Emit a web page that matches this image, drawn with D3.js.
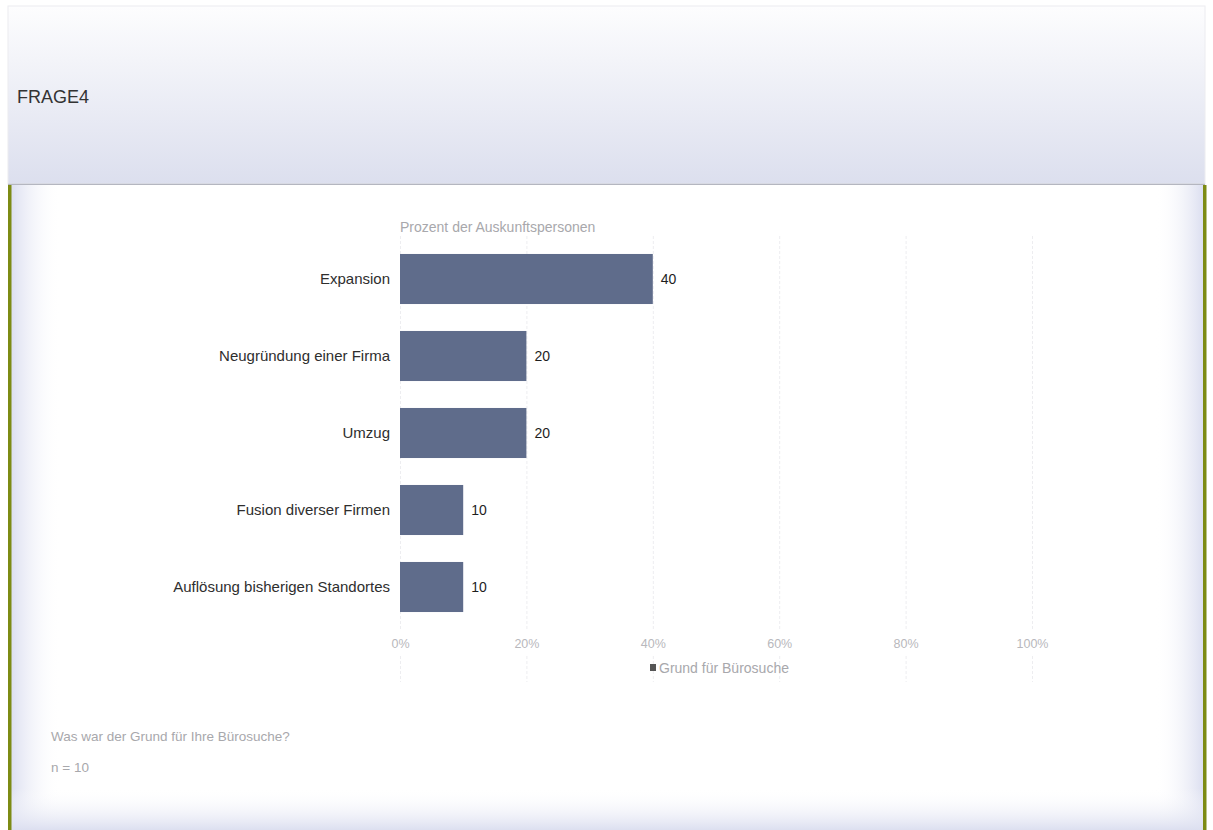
<!DOCTYPE html>
<html>
<head>
<meta charset="utf-8">
<script src="https://cdn.jsdelivr.net/npm/d3@7"></script>
<style>
  html, body { margin: 0; padding: 0; background: #fff; }
  svg { display: block; font-family: "Liberation Sans", Arial, sans-serif; }
</style>
</head>
<body>
<svg id="chart" width="1213" height="830"></svg>
<script>
// Survey results: reasons for the office search
const categories = ["Expansion", "Neugründung einer Firma", "Umzug", "Fusion diverser Firmen", "Auflösung bisherigen Standortes"];
const values = [40, 20, 20, 10, 10];
const tickValues = [0, 20, 40, 60, 80, 100];
const pageTitle = "FRAGE4";
const axisTitle = "Prozent der Auskunftspersonen";
const seriesName = "Grund für Bürosuche";
const questionText = "Was war der Grund für Ihre Bürosuche?";
const sampleText = "n = 10";

const FONT = "\"Liberation Sans\", Arial, sans-serif";
const svg = d3.select("#chart");
const defs = svg.append("defs");

// Header gradient
const hg = defs.append("linearGradient").attr("id", "hdr").attr("x1", 0).attr("y1", 0).attr("x2", 0).attr("y2", 1);
hg.append("stop").attr("offset", "0%").attr("stop-color", "#fdfdfe");
hg.append("stop").attr("offset", "30%").attr("stop-color", "#f3f4f9");
hg.append("stop").attr("offset", "100%").attr("stop-color", "#dcdfee");

// Edge shading of the content panel
function edgeGrad(id, x1, y1, x2, y2) {
  const g = defs.append("linearGradient").attr("id", id)
    .attr("x1", x1).attr("y1", y1).attr("x2", x2).attr("y2", y2);
  g.append("stop").attr("offset", "0%").attr("stop-color", "#dcdff0").attr("stop-opacity", 1);
  g.append("stop").attr("offset", "100%").attr("stop-color", "#ffffff").attr("stop-opacity", 0);
}
edgeGrad("edgeL", 0, 0, 1, 0);
edgeGrad("edgeR", 1, 0, 0, 0);
edgeGrad("edgeB", 0, 1, 0, 0);

// Page frame
svg.append("rect").attr("x", 8).attr("y", 6).attr("width", 1197).attr("height", 178)
  .attr("fill", "url(#hdr)").attr("stroke", "#ececf0").attr("stroke-width", 1);
svg.append("line").attr("x1", 8).attr("x2", 1205).attr("y1", 184.5).attr("y2", 184.5)
  .attr("stroke", "#b4b6c0").attr("stroke-width", 1.5);

svg.append("rect").attr("x", 11).attr("y", 185).attr("width", 1192).attr("height", 645).attr("fill", "#ffffff");
svg.append("rect").attr("x", 11).attr("y", 185).attr("width", 50).attr("height", 645).attr("fill", "url(#edgeL)");
svg.append("rect").attr("x", 1155).attr("y", 185).attr("width", 48).attr("height", 645).attr("fill", "url(#edgeR)");
svg.append("rect").attr("x", 11).attr("y", 788).attr("width", 1192).attr("height", 42).attr("fill", "url(#edgeB)");
svg.append("rect").attr("x", 8).attr("y", 185).attr("width", 3.5).attr("height", 645).attr("fill", "#7d8b14");
svg.append("rect").attr("x", 1203).attr("y", 185).attr("width", 3.5).attr("height", 645).attr("fill", "#7d8b14");

svg.append("text").attr("x", 17).attr("y", 103).attr("font-size", 18).attr("fill", "#333")
  .text(pageTitle);

// Scales
const x = d3.scaleLinear().domain([0, 100]).range([400, 1032]);
const y = d3.scaleBand().domain(categories).range([240.5, 625.5]).paddingInner(0.35).paddingOuter(0.175);

// Grid lines (broken around the tick labels)
const grid = svg.append("g");
[[236, 631], [656, 682]].forEach(([y1, y2]) => {
  grid.append("g").selectAll("line").data(tickValues).join("line")
    .attr("x1", d => x(d) + 0.5).attr("x2", d => x(d) + 0.5)
    .attr("y1", y1).attr("y2", y2)
    .attr("stroke", "#ededf0").attr("stroke-width", 1).attr("stroke-dasharray", "3,2");
});

// Axis title
svg.append("text").attr("x", 400).attr("y", 232).attr("font-size", 14).attr("fill", "#a8a8ac")
  .text(axisTitle);

// X axis tick labels
const xAxis = d3.axisBottom(x).tickValues(tickValues).tickFormat(d => d + "%").tickSize(0).tickPadding(0);
const ax = svg.append("g").attr("transform", "translate(0,639)").call(xAxis);
ax.select(".domain").remove();
ax.selectAll("text").attr("font-size", 12.5).attr("fill", "#b8b8bc").attr("font-family", FONT);

// Category labels
const yAxis = d3.axisLeft(y).tickSize(0).tickPadding(10);
const ay = svg.append("g").attr("transform", "translate(400,0)").call(yAxis);
ay.select(".domain").remove();
ay.selectAll("text").attr("font-size", 15).attr("fill", "#2e2e2e").attr("font-family", FONT);

// Bars
const rows = categories.map((c, i) => ({ c, v: values[i] }));
svg.append("g").selectAll("rect").data(rows).join("rect")
  .attr("x", x(0)).attr("y", d => y(d.c))
  .attr("width", d => x(d.v) - x(0)).attr("height", y.bandwidth())
  .attr("fill", "#5f6c8b");

// Value labels
svg.append("g").selectAll("text").data(rows).join("text")
  .attr("x", d => x(d.v) + 8).attr("y", d => y(d.c) + y.bandwidth() / 2)
  .attr("dy", "0.35em").attr("font-size", 14).attr("fill", "#1e1e1e")
  .text(d => d.v);

// Legend
const lg = svg.append("g").attr("transform", "translate(650,668)");
lg.append("rect").attr("x", 0).attr("y", -4).attr("width", 6).attr("height", 7).attr("fill", "#555");
lg.append("text").attr("x", 9).attr("y", 0).attr("dy", "0.35em").attr("font-size", 14).attr("fill", "#a8a8ac")
  .text(seriesName);

// Footer notes
svg.append("text").attr("x", 51).attr("y", 741).attr("font-size", 13.5).attr("fill", "#a8a8ac").text(questionText);
svg.append("text").attr("x", 51).attr("y", 772).attr("font-size", 13.5).attr("fill", "#a8a8ac").text(sampleText);
</script>
</body>
</html>
